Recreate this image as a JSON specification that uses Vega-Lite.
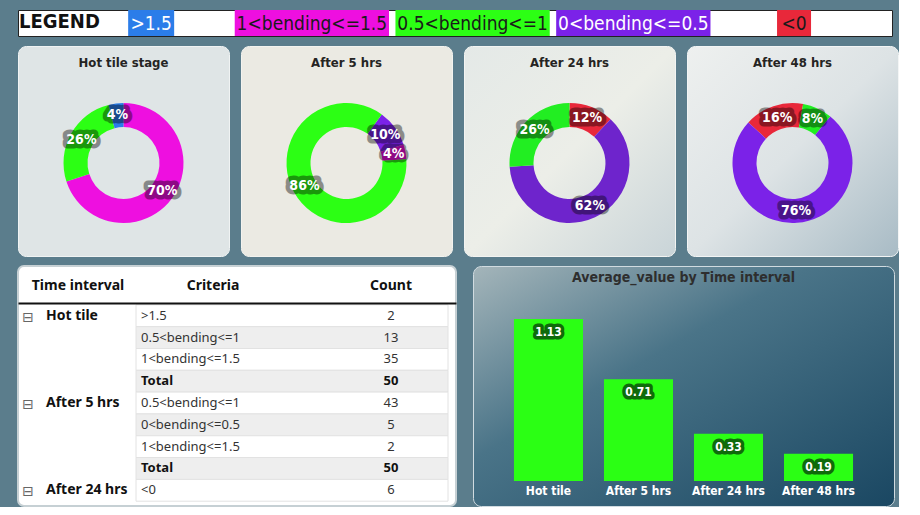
{
  "$schema": "https://vega.github.io/schema/vega-lite/v6.json",
  "description": "Tile bending dashboard: legend, four donuts, count table and average bar chart.",
  "background": "#5b7d8c",
  "padding": {"left": 17, "top": 9, "right": 0, "bottom": 0},
  "config": {
    "view": {"stroke": null},
    "font": "DejaVu Sans Condensed",
    "title": {"font": "DejaVu Sans Condensed", "fontWeight": "bold", "fontSize": 13, "color": "#252423", "baseline": "alphabetic"}
  },
  "datasets": {
    "legend": [
      {"label": ">1.5"},
      {"label": "1<bending<=1.5"},
      {"label": "0.5<bending<=1"},
      {"label": "0<bending<=0.5"},
      {"label": "<0"}
    ],
    "donut": [
      {"stage": "Hot tile", "criteria": "1<bending<=1.5", "share": 0.70, "seq": 1},
      {"stage": "Hot tile", "criteria": "0.5<bending<=1", "share": 0.26, "seq": 2},
      {"stage": "Hot tile", "criteria": ">1.5", "share": 0.04, "seq": 3},
      {"stage": "After 5 hrs", "criteria": "0<bending<=0.5", "share": 0.10, "seq": 1},
      {"stage": "After 5 hrs", "criteria": "1<bending<=1.5", "share": 0.04, "seq": 2},
      {"stage": "After 5 hrs", "criteria": "0.5<bending<=1", "share": 0.86, "seq": 3},
      {"stage": "After 24 hrs", "criteria": "<0", "share": 0.12, "seq": 1},
      {"stage": "After 24 hrs", "criteria": "0<bending<=0.5", "share": 0.62, "seq": 2},
      {"stage": "After 24 hrs", "criteria": "0.5<bending<=1", "share": 0.26, "seq": 3},
      {"stage": "After 48 hrs", "criteria": "<0", "share": 0.16, "seq": 1},
      {"stage": "After 48 hrs", "criteria": "0.5<bending<=1", "share": 0.08, "seq": 2},
      {"stage": "After 48 hrs", "criteria": "0<bending<=0.5", "share": 0.76, "seq": 3}
    ],
    "table": [
      {"row": 1, "interval": "Hot tile", "criteria": ">1.5", "count": 2},
      {"row": 2, "interval": "Hot tile", "criteria": "0.5<bending<=1", "count": 13},
      {"row": 3, "interval": "Hot tile", "criteria": "1<bending<=1.5", "count": 35},
      {"row": 4, "interval": "Hot tile", "criteria": "Total", "count": 50},
      {"row": 5, "interval": "After 5 hrs", "criteria": "0.5<bending<=1", "count": 43},
      {"row": 6, "interval": "After 5 hrs", "criteria": "0<bending<=0.5", "count": 5},
      {"row": 7, "interval": "After 5 hrs", "criteria": "1<bending<=1.5", "count": 2},
      {"row": 8, "interval": "After 5 hrs", "criteria": "Total", "count": 50},
      {"row": 9, "interval": "After 24 hrs", "criteria": "<0", "count": 6}
    ],
    "groups": [
      {"row": 1, "interval": "Hot tile"},
      {"row": 5, "interval": "After 5 hrs"},
      {"row": 9, "interval": "After 24 hrs"}
    ],
    "bars": [
      {"interval": "Hot tile", "avg": 1.13},
      {"interval": "After 5 hrs", "avg": 0.71},
      {"interval": "After 24 hrs", "avg": 0.33},
      {"interval": "After 48 hrs", "avg": 0.19}
    ]
  },
  "spacing": 8,
  "resolve": {"scale": {"x": "independent", "y": "independent", "color": "independent", "theta": "independent"}},
  "vconcat": [
    {
      "width": 874,
      "height": 26,
      "view": {"fill": "white", "stroke": "#222222", "strokeWidth": 1},
      "title": {"text": "LEGEND", "anchor": "start", "offset": -22, "dx": 1, "fontSize": 20, "color": "#111111"},
      "data": {"name": "legend"},
      "encoding": {
        "x": {"field": "label", "type": "nominal", "axis": null,
              "scale": {"domain": [">1.5", "1<bending<=1.5", "0.5<bending<=1", "0<bending<=0.5", "<0"],
                        "paddingInner": 0, "paddingOuter": 0.219, "align": 0.75}},
        "color": {"field": "label", "type": "nominal", "legend": null,
                  "scale": {"domain": [">1.5", "1<bending<=1.5", "0.5<bending<=1", "0<bending<=0.5", "<0"],
                            "range": ["#2b7de9", "#ee0fe0", "#2cff14", "#7b22e8", "#e8283a"]}}
      },
      "layer": [
        {
          "transform": [{"filter": "datum.label != '>1.5' && datum.label != '<0'"}],
          "mark": {"type": "bar", "width": {"band": 0.96}}
        },
        {
          "transform": [{"filter": "datum.label == '>1.5'"}],
          "mark": {"type": "bar", "width": 46}
        },
        {
          "transform": [{"filter": "datum.label == '<0'"}],
          "mark": {"type": "bar", "width": 34}
        },
        {
          "mark": {"type": "text", "fontSize": 19, "font": "DejaVu Sans Condensed", "dy": 1},
          "encoding": {
            "text": {"field": "label"},
            "color": {"condition": {"test": "datum.label == '>1.5' || datum.label == '0<bending<=0.5'", "value": "white"}, "value": "#1a1a1a"}
          }
        }
      ]
    },
    {
      "hconcat": [
        {
          "width": 211, "height": 210,
          "view": {"fill": "#dfe5e6", "stroke": "#f0f3f3", "cornerRadius": 8},
          "title": {"text": "Hot tile stage", "offset": -24},
          "data": {"name": "donut"},
          "transform": [{"filter": "datum.stage == 'Hot tile'"}],
          "encoding": {
            "theta": {"field": "share", "type": "quantitative", "stack": true, "scale": {"range": [0, 6.2832]}},
            "order": {"field": "seq"},
            "color": {"field": "criteria", "type": "nominal", "legend": null,
                      "scale": {"domain": [">1.5", "1<bending<=1.5", "0.5<bending<=1", "0<bending<=0.5", "<0"],
                                "range": ["#2b7de9", "#ee0fe0", "#2cff14", "#7b22e8", "#e8283a"]}}
          },
          "layer": [
            {"mark": {"type": "arc", "innerRadius": 36, "outerRadius": 60, "yOffset": 12}},
            {"mark": {"type": "text", "radius": 48, "yOffset": 12, "fontSize": 14, "fontWeight": "bold", "stroke": "#000000", "strokeWidth": 9, "strokeJoin": "round", "opacity": 0.4},
             "encoding": {"text": {"field": "share", "format": ".0%"}, "color": {"value": "#000000"}}},
            {"mark": {"type": "text", "radius": 48, "yOffset": 12, "fontSize": 14, "fontWeight": "bold"},
             "encoding": {"text": {"field": "share", "format": ".0%"}, "color": {"value": "white"}}}
          ]
        },
        {
          "width": 211, "height": 210,
          "view": {"fill": "#ebeae3", "stroke": "#f3f3ef", "cornerRadius": 8},
          "title": {"text": "After 5 hrs", "offset": -24},
          "data": {"name": "donut"},
          "transform": [{"filter": "datum.stage == 'After 5 hrs'"}],
          "encoding": {
            "theta": {"field": "share", "type": "quantitative", "stack": true, "scale": {"range": [0.628, 6.911]}},
            "order": {"field": "seq"},
            "color": {"field": "criteria", "type": "nominal", "legend": null,
                      "scale": {"domain": [">1.5", "1<bending<=1.5", "0.5<bending<=1", "0<bending<=0.5", "<0"],
                                "range": ["#2b7de9", "#ee0fe0", "#2cff14", "#7b22e8", "#e8283a"]}}
          },
          "layer": [
            {"mark": {"type": "arc", "innerRadius": 36, "outerRadius": 60, "yOffset": 12}},
            {"mark": {"type": "text", "radius": 48, "yOffset": 12, "fontSize": 14, "fontWeight": "bold", "stroke": "#000000", "strokeWidth": 9, "strokeJoin": "round", "opacity": 0.4},
             "encoding": {"text": {"field": "share", "format": ".0%"}, "color": {"value": "#000000"}}},
            {"mark": {"type": "text", "radius": 48, "yOffset": 12, "fontSize": 14, "fontWeight": "bold"},
             "encoding": {"text": {"field": "share", "format": ".0%"}, "color": {"value": "white"}}}
          ]
        },
        {
          "width": 211, "height": 210,
          "view": {"fill": {"gradient": "linear", "x1": 0, "y1": 0, "x2": 1, "y2": 1,
                            "stops": [{"offset": 0, "color": "#e4e9e7"}, {"offset": 0.5, "color": "#eceee8"}, {"offset": 1, "color": "#c9d4d8"}]},
                   "stroke": "#f3f4f2", "cornerRadius": 8},
          "title": {"text": "After 24 hrs", "offset": -24},
          "data": {"name": "donut"},
          "transform": [{"filter": "datum.stage == 'After 24 hrs'"}],
          "encoding": {
            "theta": {"field": "share", "type": "quantitative", "stack": true, "scale": {"range": [0, 6.2832]}},
            "order": {"field": "seq"},
            "color": {"field": "criteria", "type": "nominal", "legend": null,
                      "scale": {"domain": [">1.5", "1<bending<=1.5", "0.5<bending<=1", "0<bending<=0.5", "<0"],
                                "range": ["#2b7de9", "#ee0fe0", "#22ee22", "#6e24cc", "#e8283a"]}}
          },
          "layer": [
            {"mark": {"type": "arc", "innerRadius": 36, "outerRadius": 60, "yOffset": 12}},
            {"mark": {"type": "text", "radius": 48, "yOffset": 12, "fontSize": 14, "fontWeight": "bold", "stroke": "#000000", "strokeWidth": 9, "strokeJoin": "round", "opacity": 0.4},
             "encoding": {"text": {"field": "share", "format": ".0%"}, "color": {"value": "#000000"}}},
            {"mark": {"type": "text", "radius": 48, "yOffset": 12, "fontSize": 14, "fontWeight": "bold"},
             "encoding": {"text": {"field": "share", "format": ".0%"}, "color": {"value": "white"}}}
          ]
        },
        {
          "width": 211, "height": 210,
          "view": {"fill": {"gradient": "linear", "x1": 0, "y1": 0, "x2": 1, "y2": 1,
                            "stops": [{"offset": 0, "color": "#eef0ef"}, {"offset": 0.5, "color": "#dde3e5"}, {"offset": 1, "color": "#a8bbc5"}]},
                   "stroke": "#f3f5f5", "cornerRadius": 8},
          "title": {"text": "After 48 hrs", "offset": -24},
          "data": {"name": "donut"},
          "transform": [{"filter": "datum.stage == 'After 48 hrs'"}],
          "encoding": {
            "theta": {"field": "share", "type": "quantitative", "stack": true, "scale": {"range": [-0.827, 5.456]}},
            "order": {"field": "seq"},
            "color": {"field": "criteria", "type": "nominal", "legend": null,
                      "scale": {"domain": [">1.5", "1<bending<=1.5", "0.5<bending<=1", "0<bending<=0.5", "<0"],
                                "range": ["#2b7de9", "#ee0fe0", "#22ee22", "#7b22e8", "#e8283a"]}}
          },
          "layer": [
            {"mark": {"type": "arc", "innerRadius": 36, "outerRadius": 60, "yOffset": 12}},
            {"mark": {"type": "text", "radius": 48, "yOffset": 12, "fontSize": 14, "fontWeight": "bold", "stroke": "#000000", "strokeWidth": 9, "strokeJoin": "round", "opacity": 0.4},
             "encoding": {"text": {"field": "share", "format": ".0%"}, "color": {"value": "#000000"}}},
            {"mark": {"type": "text", "radius": 48, "yOffset": 12, "fontSize": 14, "fontWeight": "bold"},
             "encoding": {"text": {"field": "share", "format": ".0%"}, "color": {"value": "white"}}}
          ]
        }
      ],
      "spacing": 10,
      "resolve": {"scale": {"theta": "independent", "color": "independent"}}
    },
    {
      "hconcat": [
        {
          "width": 438, "height": 240,
          "view": {"fill": "white", "stroke": "#c6d0d4", "strokeWidth": 2, "cornerRadius": 6},
          "encoding": {
            "y": {"field": "row", "type": "ordinal", "axis": null,
                  "scale": {"domain": [1, 2, 3, 4, 5, 6, 7, 8, 9], "paddingInner": 0, "paddingOuter": 1.0046, "align": 0.89}}
          },
          "layer": [
            {
              "data": {"name": "table"},
              "mark": {"type": "rect", "stroke": "#e2e2e2", "strokeWidth": 1, "xOffset": -28, "x2Offset": -8},
              "encoding": {
                "x": {"datum": "Criteria", "type": "nominal", "bandPosition": 0,
                      "scale": {"domain": ["Time interval", "Criteria", "Count"], "paddingInner": 0, "paddingOuter": 0},
                      "axis": {"orient": "top", "offset": -37, "title": null, "labelAngle": 0, "ticks": false, "tickSize": 0,
                               "domainColor": "#111111", "domainWidth": 2, "labelPadding": 11, "labelFont": "Noto Sans",
                               "labelFontSize": 14, "labelFontWeight": "bold", "labelColor": "#111111",
                               "labelOffset": {"condition": [{"test": "datum.value == 'Time interval'", "value": -13},
                                                             {"test": "datum.value == 'Criteria'", "value": -24}],
                                               "value": 8}}},
                "x2": {"datum": "Count", "bandPosition": 1},
                "fill": {"condition": {"test": "datum.row % 2 == 0", "value": "#eeeeee"}, "value": "#ffffff"}
              }
            },
            {
              "data": {"name": "table"},
              "transform": [{"filter": "datum.criteria != 'Total'"}],
              "mark": {"type": "text", "align": "left", "dx": -96, "font": "Noto Sans", "fontSize": 13, "color": "#333333"},
              "encoding": {"x": {"datum": "Criteria", "type": "nominal"}, "text": {"field": "criteria"}}
            },
            {
              "data": {"name": "table"},
              "transform": [{"filter": "datum.criteria != 'Total'"}],
              "mark": {"type": "text", "dx": 8, "font": "Noto Sans", "fontSize": 13, "color": "#333333"},
              "encoding": {"x": {"datum": "Count", "type": "nominal"}, "text": {"field": "count"}}
            },
            {
              "data": {"name": "table"},
              "transform": [{"filter": "datum.criteria == 'Total'"}],
              "mark": {"type": "text", "align": "left", "dx": -96, "font": "Noto Sans", "fontSize": 13, "fontWeight": "bold", "color": "#111111"},
              "encoding": {"x": {"datum": "Criteria", "type": "nominal"}, "text": {"field": "criteria"}}
            },
            {
              "data": {"name": "table"},
              "transform": [{"filter": "datum.criteria == 'Total'"}],
              "mark": {"type": "text", "dx": 8, "font": "Noto Sans", "fontSize": 13, "fontWeight": "bold", "color": "#111111"},
              "encoding": {"x": {"datum": "Count", "type": "nominal"}, "text": {"field": "count"}}
            },
            {
              "data": {"name": "groups"},
              "mark": {"type": "text", "align": "left", "dx": -45, "font": "Noto Sans", "fontSize": 14, "fontWeight": "bold", "color": "#111111"},
              "encoding": {"x": {"datum": "Time interval", "type": "nominal"}, "text": {"field": "interval"}}
            },
            {
              "data": {"name": "groups"},
              "mark": {"type": "text", "dx": -63, "dy": 2, "font": "DejaVu Sans", "fontSize": 14, "color": "#666666", "text": "⊟"},
              "encoding": {"x": {"datum": "Time interval", "type": "nominal"}}
            }
          ]
        },
        {
          "width": 421, "height": 240,
          "view": {"fill": {"gradient": "linear", "x1": 0, "y1": 0, "x2": 1, "y2": 1,
                            "stops": [{"offset": 0, "color": "#a4b5ba"}, {"offset": 0.4, "color": "#4a7488"}, {"offset": 1, "color": "#1a4762"}]},
                   "stroke": "#d0dbe0", "strokeWidth": 1, "cornerRadius": 8},
          "title": {"text": "Average_value by Time interval", "offset": -19, "fontSize": 14, "color": "#2e2e2e"},
          "data": {"name": "bars"},
          "encoding": {
            "x": {"field": "interval", "type": "nominal", "sort": null,
                  "scale": {"paddingInner": 0.233, "paddingOuter": 0.455},
                  "axis": {"orient": "bottom", "offset": -25, "title": null, "labelAngle": 0, "domain": false, "ticks": false, "tickSize": 0,
                           "labelPadding": 4, "labelColor": "white", "labelFontWeight": "bold", "labelFontSize": 12, "labelFont": "DejaVu Sans Condensed"}},
            "y": {"field": "avg", "type": "quantitative", "axis": null,
                  "scale": {"domain": [-0.174, 1.499], "nice": false}}
          },
          "layer": [
            {"mark": {"type": "bar", "color": "#2bff14"}, "encoding": {"y2": {"datum": 0}}},
            {"mark": {"type": "text", "yOffset": 13, "fontSize": 12, "fontWeight": "bold", "stroke": "#0f6a0b", "strokeWidth": 7, "strokeJoin": "round", "color": "#0f6a0b"},
             "encoding": {"text": {"field": "avg", "format": ".2f"}}},
            {"mark": {"type": "text", "yOffset": 13, "fontSize": 12, "fontWeight": "bold", "color": "white"},
             "encoding": {"text": {"field": "avg", "format": ".2f"}}}
          ]
        }
      ],
      "spacing": 15,
      "resolve": {"scale": {"x": "independent", "y": "independent"}}
    }
  ]
}
